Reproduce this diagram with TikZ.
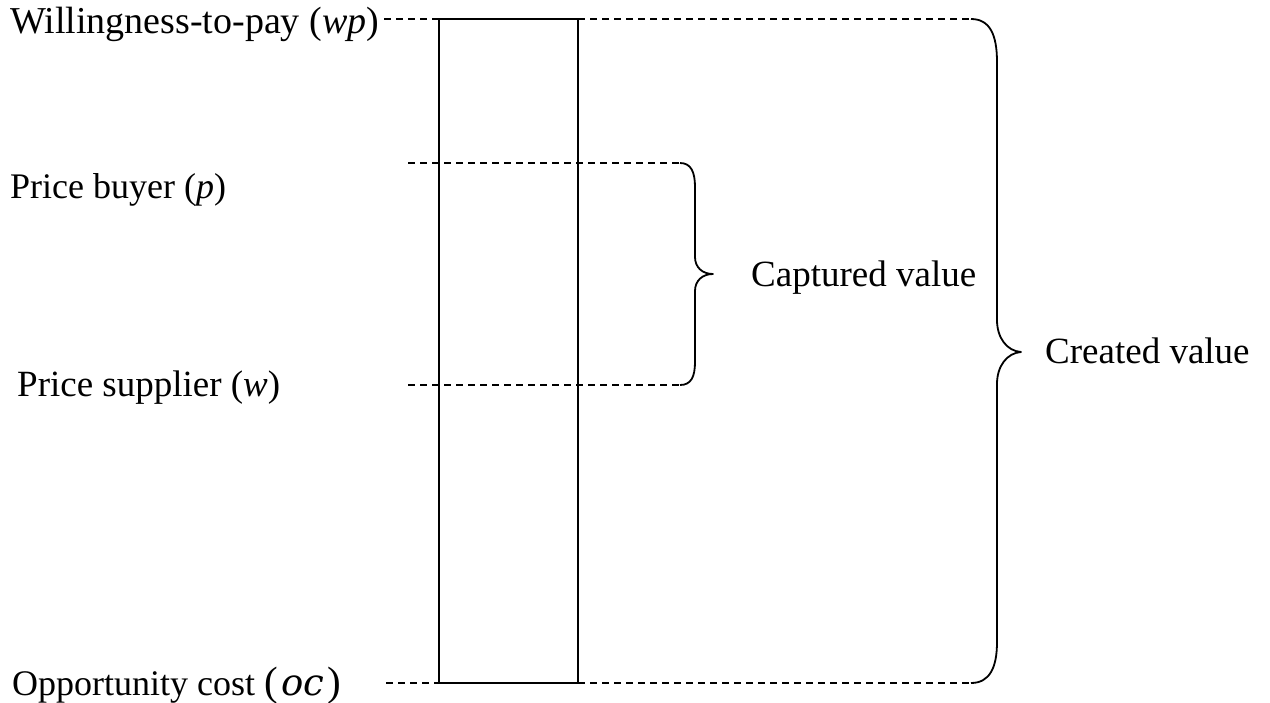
\documentclass[tikz,border=0pt]{standalone}
\usepackage{fontspec}
\setmainfont{Liberation Serif}
\newfontfamily\varfont{DejaVu Serif}
\begin{document}
\begin{tikzpicture}[x=1pt,y=-1pt,
  lbl/.style={inner sep=0pt,anchor=base west,font=\fontsize{37}{40}\selectfont},
  guide/.style={dash pattern=on 7pt off 5pt,line width=1.5pt},
  bar/.style={line width=1.8pt},
  bracepath/.style={line width=1.8pt,line join=round}]
\useasboundingbox (0,0) rectangle (1270,702);

% the value bar
\coordinate (wpL) at (439,19);
\coordinate (wpR) at (578,19);
\coordinate (ocL) at (439,683);
\coordinate (ocR) at (578,683);
\draw[bar] (wpL) rectangle (ocR);

% level labels
\node[lbl,font=\fontsize{38}{40}\selectfont] (wp) at (10,33) {Willingness-to-pay (\textit{wp})};
\node[lbl,font=\fontsize{36}{40}\selectfont] (p)  at (10,198) {Price buyer (\textit{p})};
\node[lbl] (w)  at (17,396) {Price supplier (\textit{w})};
\node[lbl,font=\fontsize{36}{40}\selectfont] (oc) at (12,695)
  {Opportunity cost {\fontsize{41}{40}\selectfont(\kern3.5pt{\varfont\itshape\fontsize{37}{40}\selectfont oc}\kern3.5pt)}};

% dashed guide lines
\coordinate (wpA) at (384,19);
\coordinate (wpB) at (971,19);
\coordinate (ocA) at (386,683);
\coordinate (ocB) at (971,683);
\coordinate (pA) at (408,163);
\coordinate (pB) at (680,163);
\coordinate (wA) at (408,385);
\coordinate (wB) at (680,385);
\draw[guide] (wpA) -- (wpL);
\draw[guide] (wpR) -- (wpB);
\draw[guide] (ocA) -- (ocL);
\draw[guide] (ocR) -- (ocB);
\draw[guide] (pA) -- (pB);
\draw[guide] (wA) -- (wB);

% brace for captured value
\coordinate (capTip) at (713,274);
\draw[bracepath] (pB) .. controls (691,163) and (695,172) .. (695,187)
  -- (695,257) .. controls (695,267) and (702,274) .. (capTip)
  .. controls (702,274) and (695,281) .. (695,291)
  -- (695,362) .. controls (695,377) and (691,385) .. (wB);
\node[lbl] (cap) at (751,286) {Captured value};

% brace for created value
\coordinate (creTip) at (1021,352);
\draw[bracepath] (wpB) .. controls (990,19) and (997,35) .. (997,62)
  -- (997,320) .. controls (997,338) and (1007,351) .. (creTip)
  .. controls (1007,353) and (997,366) .. (997,384)
  -- (997,642) .. controls (997,667) and (990,683) .. (ocB);
\node[lbl] (cre) at (1045,363) {Created value};
\end{tikzpicture}
\end{document}
